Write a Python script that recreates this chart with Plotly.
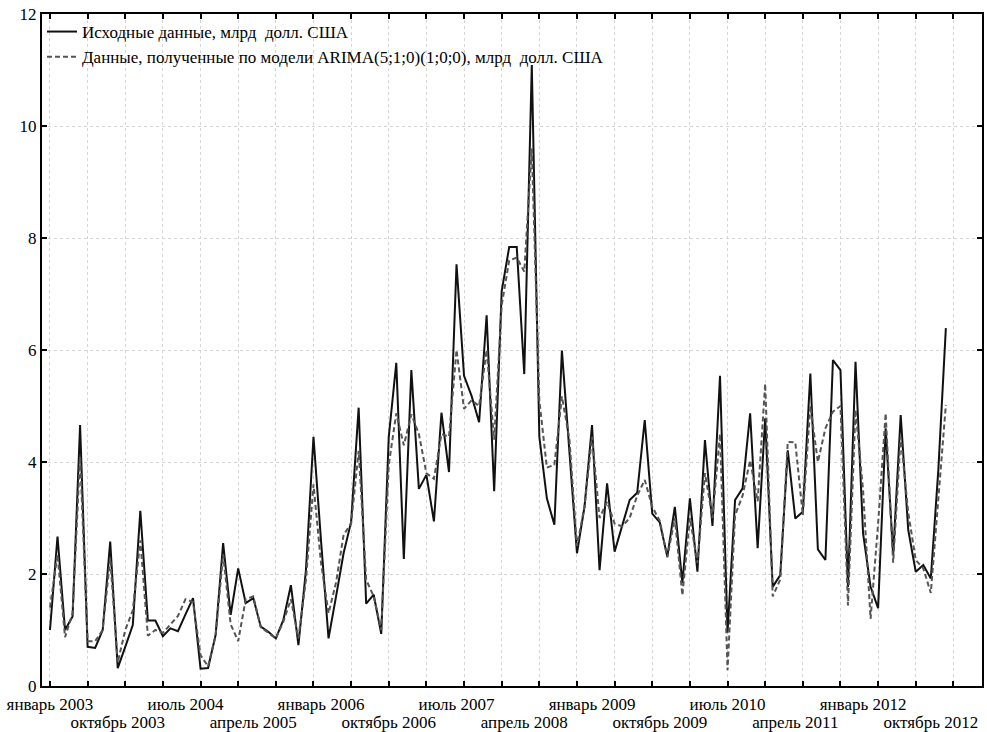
import plotly.graph_objects as go

# Monthly observations, January 2003 - December 2012 (case index 0..119)
months_idx = list(range(120))

original = [
    1.00, 2.67, 1.00, 1.24, 4.66, 0.70, 0.68, 1.00, 2.58, 0.32,
    0.70, 1.09, 3.13, 1.17, 1.17, 0.89, 1.03, 0.98, 1.28, 1.57,
    0.31, 0.32, 0.91, 2.55, 1.27, 2.10, 1.48, 1.57, 1.06, 0.97,
    0.85, 1.18, 1.80, 0.73, 2.07, 4.45, 2.60, 0.85, 1.60, 2.37,
    2.93, 4.97, 1.47, 1.63, 0.93, 4.45, 5.77, 2.27, 5.64, 3.52,
    3.77, 2.94, 4.88, 3.82, 7.53, 5.54, 5.18, 4.71, 6.62, 3.48,
    7.05, 7.84, 7.84, 5.57, 11.09, 4.45, 3.35, 2.88, 5.99, 4.20,
    2.37, 3.20, 4.66, 2.07, 3.62, 2.40, 2.85, 3.32, 3.45, 4.75,
    3.08, 2.92, 2.31, 3.20, 1.84, 3.35, 2.04, 4.39, 2.86, 5.54,
    0.95, 3.32, 3.53, 4.87, 2.46, 4.78, 1.77, 1.98, 4.21, 2.99,
    3.11, 5.58, 2.44, 2.25, 5.82, 5.64, 1.77, 5.79, 2.73, 1.77,
    1.39, 4.60, 2.34, 4.84, 2.79, 2.04, 2.16, 1.92, 3.86, 6.39,
]

model = [
    1.40, 2.35, 0.87, 1.30, 4.10, 0.80, 0.80, 1.00, 2.28, 0.42,
    1.00, 1.35, 2.60, 0.90, 1.00, 0.95, 1.10, 1.25, 1.55, 1.50,
    0.55, 0.35, 0.90, 2.35, 1.10, 0.80, 1.55, 1.60, 1.05, 0.95,
    0.85, 1.15, 1.55, 0.85, 1.90, 3.60, 2.20, 1.30, 1.85, 2.70,
    2.90, 4.20, 1.90, 1.60, 1.00, 3.95, 4.87, 4.30, 4.85, 4.50,
    3.80, 3.70, 4.50, 4.45, 6.00, 4.95, 5.10, 5.00, 6.00, 4.40,
    6.80, 7.60, 7.65, 7.40, 9.60, 5.10, 3.90, 3.95, 5.17, 4.40,
    2.50, 3.20, 4.45, 3.00, 3.29, 2.90, 2.85, 3.00, 3.40, 3.68,
    3.20, 2.95, 2.30, 3.00, 1.62, 3.00, 2.20, 3.80, 3.00, 4.50,
    0.28, 3.05, 3.40, 4.03, 3.30, 5.40, 1.60, 1.90, 4.36, 4.35,
    3.05, 5.00, 4.00, 4.60, 4.90, 5.00, 1.44, 4.93, 3.50, 1.20,
    2.90, 4.87, 2.20, 4.45, 3.10, 2.25, 2.10, 1.66, 3.40, 5.02,
]

label_idx = [0, 9, 18, 27, 36, 45, 54, 63, 72, 81, 90, 99, 108, 117]
label_text = [
    "январь 2003", "октябрь 2003", "июль 2004", "апрель 2005",
    "январь 2006", "октябрь 2006", "июль 2007", "апрель 2008",
    "январь 2009", "октябрь 2009", "июль 2010", "апрель 2011",
    "январь 2012", "октябрь 2012",
]
minor_ticks = list(range(0, 121, 5))
y_ticks = [0, 2, 4, 6, 8, 10, 12]

name_orig = "Исходные данные, млрд\u00a0 долл. США"
name_model = "Данные, полученные по модели ARIMA(5;1;0)(1;0;0), млрд\u00a0 долл. США"

FONT = "Liberation Serif"
x_range = [-1.06, 123.8]

row1_idx = label_idx[0::2]
row1_txt = label_text[0::2]
row2_idx = label_idx[1::2]
row2_txt = label_text[1::2]

fig = go.Figure()
fig.add_trace(go.Scatter(
    x=months_idx, y=original, mode="lines", name=name_orig,
    line=dict(color="#111111", width=2),
))
fig.add_trace(go.Scatter(
    x=months_idx, y=model, mode="lines", name=name_model,
    line=dict(color="#555555", width=2, dash="5px,3px"),
))
# invisible traces to activate the two label axes
fig.add_trace(go.Scatter(x=[row1_idx[0]], y=[None], xaxis="x2",
                         showlegend=False, hoverinfo="skip"))
fig.add_trace(go.Scatter(x=[row2_idx[0]], y=[None], xaxis="x3",
                         showlegend=False, hoverinfo="skip"))

label_axis = dict(
    range=x_range, overlaying="x", anchor="y", side="bottom",
    tickmode="array", tickangle=0, ticks="", showgrid=False,
    showline=False, zeroline=False, automargin=False,
    tickfont=dict(family=FONT, size=17, color="black"),
)

fig.update_layout(
    width=987, height=732,
    margin=dict(l=42, r=5, t=14, b=46, autoexpand=False),
    paper_bgcolor="white", plot_bgcolor="white",
    font=dict(family=FONT, size=17, color="black"),
    showlegend=True,
    legend=dict(
        x=0.0, y=1.0, xanchor="left", yanchor="top",
        bgcolor="rgba(0,0,0,0)", font=dict(family=FONT, size=17, color="black"),
        itemwidth=30, tracegroupgap=0, traceorder="normal",
    ),
    xaxis=dict(
        range=x_range, tickmode="array", tickvals=minor_ticks,
        showticklabels=False, ticks="inside", ticklen=5, tickwidth=2,
        tickcolor="black", showline=True, linecolor="black", linewidth=2,
        mirror="ticks", showgrid=True, gridcolor="#d4d4d4", gridwidth=1,
        griddash="dot", zeroline=False, automargin=False,
    ),
    xaxis2=dict(label_axis, tickvals=row1_idx, ticktext=row1_txt,
                ticklabelstandoff=6),
    xaxis3=dict(label_axis, tickvals=row2_idx, ticktext=row2_txt,
                ticklabelstandoff=24),
    yaxis=dict(
        range=[0, 12], tickmode="array", tickvals=y_ticks,
        ticks="inside", ticklen=5, tickwidth=2, tickcolor="black",
        showline=True, linecolor="black", linewidth=2, mirror="ticks",
        showgrid=True, gridcolor="#d4d4d4", gridwidth=1, griddash="dot",
        zeroline=False, automargin=False,
        tickfont=dict(family=FONT, size=17, color="black"),
    ),
)

fig.write_html("out.html")
